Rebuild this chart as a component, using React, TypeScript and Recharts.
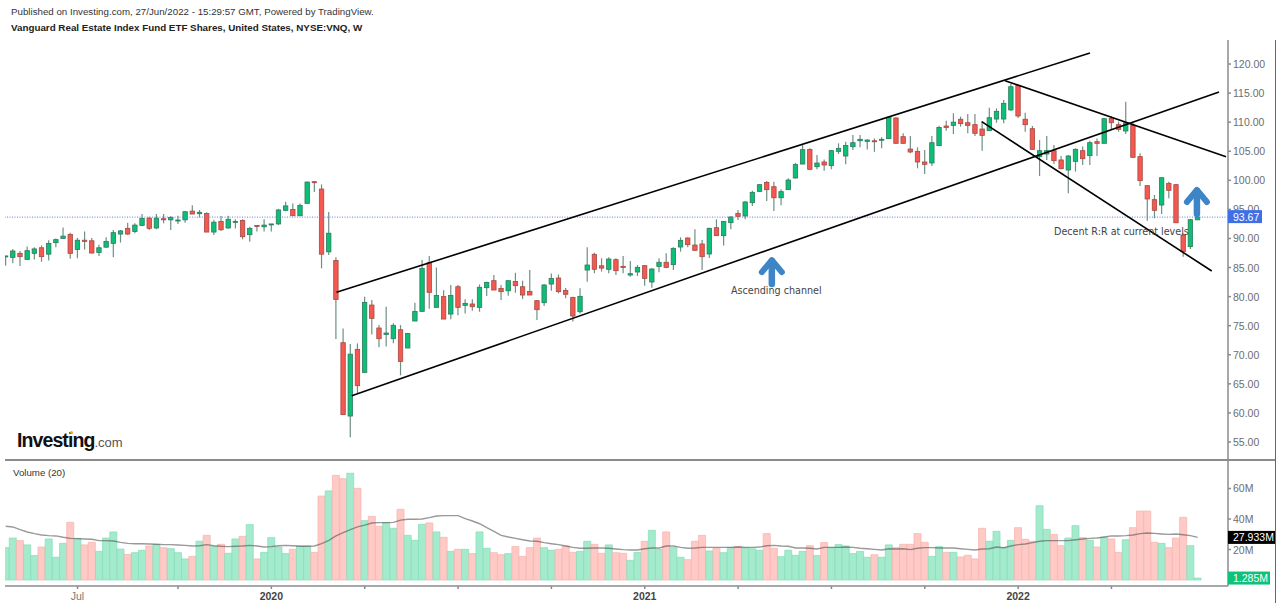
import React from "react";
import { ComposedChart, Bar, Line, Cell, XAxis, YAxis, ReferenceLine, ReferenceDot } from "recharts";

const opens = [
  86.9, 86.75, 87.44, 86.4, 87.44, 88.4, 87.3, 89.27, 90.0, 90.7,
  88.1, 89.7, 89.6, 87.6, 88.5, 89.16, 90.76, 91.74, 91.2, 92.25,
  93.5, 91.8, 93.4, 93.2, 93.05, 93.2, 94.7, 94.26, 94.3, 91.1,
  92.94, 91.8, 92.77, 93.1, 90.65, 92.25, 92, 92.35, 92.5, 94.84,
  95, 93.9, 96.04, 99.76, 98.5, 87.7, 86.2, 72.07, 59.46, 70.93,
  66.97, 78.55, 74.6, 73.5, 72.76, 74.3, 71.16, 75.8, 77.46, 85.83,
  78.15, 80, 77, 81.7, 78.5, 78.73, 78.15, 81.53, 82.74, 81.4,
  81, 82.6, 81.7, 80.9, 79.3, 78.95, 82.16, 83.2, 81.07, 79.87,
  77.4, 84.57, 87.27, 85.3, 84.7, 86.35, 85.2, 83.71, 84.23, 85.32,
  82.51, 85.2, 85.9, 85.5, 88.53, 90.08, 88.87, 89.05, 87.33, 91.85,
  90.48, 92.71, 94.32, 93.86, 96.15, 98.1, 99.65, 98.9, 97, 98.39,
  100.4, 102.8, 105.3, 102.34, 103.15, 102.52, 104.98, 104.18, 105.78, 106.8,
  106.7, 106.8, 106.93, 107.16, 110.72, 107.5, 105.38, 104.98, 103.15, 102.98,
  105.96, 109.34, 109.45, 110.5, 109.9, 109.57, 108.82, 108.54, 110.54, 110.54,
  112.1, 116.3, 110.5, 108.88, 104.07, 104.52, 105.1, 103.5, 101.77, 103.26,
  105.1, 104.24, 106.64, 106.36, 110.66, 109.57, 108.48, 109.45, 104.07, 99.08,
  96.67, 95.75, 99.48, 99.25, 90.6, 88.59, 93.2,
];

const highs = [
  87, 88.2, 87.84, 88.6, 88.5, 88.8, 89.7, 90, 91.9, 91,
  90.1, 91.2, 90.1, 88.9, 90.2, 91.45, 91.45, 92.7, 92.6, 94.2,
  93.75, 94.2, 94.2, 93.85, 93.9, 94.7, 95.7, 94.9, 94.5, 93.2,
  93.85, 93.9, 93.3, 93.3, 92, 92.3, 93.3, 92.5, 95.1, 96.3,
  96, 96, 99.8, 99.9, 99.3, 94.55, 86.75, 74.5, 71.85, 71.96,
  79.98, 79.4, 75.1, 78.26, 75.4, 75.1, 73.74, 78.95, 86.3, 86.98,
  85, 81.1, 81.99, 82, 79.53, 79.53, 82.1, 82.56, 83.7, 82,
  82.74, 84.1, 82.74, 84.57, 79.4, 82.16, 83.96, 83.8, 81.5, 79.98,
  81.42, 88.47, 87.55, 86.6, 86.75, 86.6, 86.98, 86.12, 85.43, 85.43,
  84.86, 86.58, 87.44, 88.47, 90.2, 90.2, 91.6, 89.73, 91.85, 93.29,
  93, 93.86, 94.89, 96.44, 98.22, 99.31, 99.88, 99.76, 98.45, 100.34,
  103, 106.07, 105.5, 104.35, 103.6, 105.2, 106.36, 106.64, 107.8, 107.8,
  107.05, 107.2, 107.4, 110.95, 110.83, 108.08, 107.62, 105.67, 105.2, 107.62,
  109.4, 110.26, 111.52, 110.95, 111.4, 111.4, 110.1, 112.5, 112.38, 113.8,
  116.56, 116.4, 111.63, 109.34, 106.93, 107.62, 106.07, 104.18, 104.35, 105.5,
  105.8, 106.82, 107.2, 110.66, 111.06, 110.1, 113.53, 109.9, 104.64, 99.19,
  97.47, 100.5, 99.77, 99.36, 90.88, 93.35, 93.75,
];

const lows = [
  85.3, 85.72, 85.26, 86.3, 86.4, 86, 86.2, 88.5, 90, 86.5,
  86.6, 88.1, 87.4, 87, 88.4, 86.75, 89.3, 90.6, 90.9, 92.1,
  91.45, 91.6, 92.6, 91.45, 92.5, 92.7, 94.2, 93.6, 91.1, 90.6,
  91.3, 91.7, 91.7, 89.85, 89.45, 91.2, 91.2, 91.2, 92.3, 94.7,
  93.9, 93.9, 96, 98, 84.86, 87.15, 72.7, 59.7, 55.8, 63.36,
  66.97, 73.5, 71.3, 71.4, 71.96, 66.46, 71.16, 75.8, 77.46, 77.9,
  78.15, 76.14, 76.1, 76.8, 77.1, 77.58, 77.4, 80.1, 81.13, 79.4,
  80.16, 80.67, 79.6, 80.27, 75.97, 78.4, 81, 80.56, 79.7, 75.7,
  77.1, 82.56, 84, 84.3, 84, 83.7, 84, 83.43, 83.54, 81.88,
  81.54, 84.17, 84.86, 84.57, 87.73, 88.47, 87.9, 84.57, 86.64, 90.42,
  88.8, 91.6, 93.17, 93.29, 95.58, 98.05, 96.44, 94.72, 95.7, 98.33,
  100.28, 102.75, 101.77, 101.89, 101.66, 101.89, 104.52, 102.75, 105.2, 105.67,
  105.3, 104.9, 105.5, 107.1, 106.36, 106.3, 104.64, 102.06, 101.09, 102.46,
  105.9, 108.54, 107.96, 109.23, 108.08, 107.62, 105.1, 108.48, 109.9, 109.8,
  111.98, 110.7, 108.36, 105.2, 100.74, 103.5, 102.8, 101.9, 97.76, 101.5,
  102.63, 102.63, 104.18, 106.36, 108.65, 108.36, 107.96, 103.9, 99, 93.06,
  93.46, 94.2, 96.9, 92.7, 86.87, 88.2, 93.2,
];

const closes = [
  87, 87.84, 86.87, 87.9, 88.2, 86.87, 89.16, 89.8, 90.4, 87.44,
  89.7, 89.5, 87.5, 88.4, 89.5, 91, 91.3, 90.76, 92.3, 93.46,
  91.74, 93.5, 93.2, 93.6, 93.17, 94.6, 94.2, 94.5, 91.1, 92.8,
  91.5, 93.3, 92.94, 90.3, 91.74, 92.1, 92.3, 92.5, 94.9, 95.6,
  93.9, 95.7, 99.7, 99.6, 87.3, 90.9, 79.5, 59.7, 70.1, 64.68,
  79, 76.26, 72.76, 73.74, 75.06, 68.86, 73.68, 77.46, 84.86, 80.73,
  80.2, 76.14, 80.2, 78.15, 78.84, 78.26, 81.6, 82.45, 81.13, 80.85,
  82.74, 81.88, 80.27, 80.27, 77.75, 82, 83.1, 80.85, 80.4, 76.66,
  80.04, 85.43, 84.7, 84.9, 86.46, 84.46, 85, 83.94, 85.03, 83.14,
  84.75, 85.9, 85.03, 88.3, 89.68, 88.93, 87.96, 86.87, 91.74, 90.48,
  92.94, 93.69, 93.8, 96.27, 97.93, 99.25, 98.39, 97, 98.05, 100.05,
  102.7, 105.27, 101.89, 102.97, 102.63, 105.1, 105.5, 106, 106.47, 107.05,
  106.93, 106.7, 107.05, 110.83, 106.36, 106.36, 104.87, 103.15, 102.75, 106.47,
  109.1, 109.1, 110, 109.74, 109.45, 108.08, 107.73, 110.77, 111.86, 113.24,
  116.1, 111.06, 109.57, 105.33, 105.1, 105.1, 103.38, 102, 104.18, 105.33,
  103.72, 106.47, 106.36, 110.6, 109.9, 108.77, 109.9, 103.95, 99.94, 96.79,
  94.84, 100.45, 98.28, 92.7, 87.73, 93.23, 93.67,
];

// volume, millions
const volumes = [
  21.2, 27.5, 25.8, 23, 16, 21.6, 26.9, 14.9, 24, 37.8,
  27.3, 23, 24.7, 18.8, 27.5, 31.5, 20.3, 16.8, 17.9, 19.5,
  22.3, 23.2, 21.2, 20.5, 17.9, 13.8, 15.5, 25.4, 29.3, 22,
  23.4, 17.5, 26.9, 28.6, 36.3, 13.8, 18.1, 27.8, 21.6, 17.3,
  20.1, 22.3, 22.3, 18.1, 55, 58.4, 68.6, 66.4, 70, 60.1,
  38.9, 41.7, 35.2, 37.6, 33.9, 46.3, 29.3, 26, 36.5, 37.4,
  31.5, 28, 18.8, 20.1, 20.1, 17.3, 31.5, 20.8, 17.9, 16.6,
  17.3, 21.9, 15.5, 21.2, 27.5, 21.2, 19.5, 20.1, 22.3, 18.1,
  18.8, 25.4, 23.4, 17.5, 23, 17.9, 17.5, 12.9, 18.1, 25.4,
  32.6, 20.1, 31.5, 21.2, 14.9, 13.3, 25.4, 29.3, 19, 20.8,
  17.9, 21.2, 22, 21, 20.5, 19.5, 30.4, 20.8, 15.3, 19.5,
  16.2, 18.8, 22.5, 16, 24.5, 21.2, 23.2, 22.3, 17.3, 18.8,
  14.9, 16.6, 14.9, 23, 21.2, 23.4, 23.4, 30.4, 24.7, 15.5,
  21.9, 18.1, 18.1, 15.1, 16.2, 13.8, 33.9, 25.4, 31.9, 21.2,
  26, 34.3, 26.7, 25.4, 48.7, 33.2, 29.9, 22.5, 27.5, 35.6,
  27.8, 26, 21.6, 28, 26.9, 18.1, 26.4, 34.3, 45.2, 45.2,
  24.7, 24, 21.2, 27.5, 41.1, 22.5, 1.285,
];

const volumeMa = [
  35.2, 34.8, 33, 31.5, 30.4, 29.5, 29.1, 28.9, 28, 27.3,
  27.1, 26.9, 26.7, 25.8, 25.8, 25.6, 24.7, 24, 23.8, 23.8,
  23.6, 23.4, 23.2, 23.2, 23, 22.7, 22.3, 22.5, 23.2, 22.5,
  22.1, 21.9, 22.1, 22.3, 22.7, 22.3, 21.6, 21.9, 22.5, 22.7,
  22.5, 22.1, 22.1, 22.3, 23.8, 26, 28.9, 31, 33, 34.8,
  36, 37.4, 37.6, 37.6, 37.8, 39.3, 39.8, 39.8, 40, 40.9,
  42, 42.2, 42.2, 42.2, 40.2, 38.7, 36.9, 34.3, 31.9, 29.3,
  28.2, 27.3, 26.4, 25.6, 25.4, 24.5, 23.8, 23.2, 22.3, 21.4,
  20.8, 20.8, 21, 21, 20.8, 20.3, 19.9, 19.7, 19.7, 20.5,
  21, 21, 22.3, 22.3, 21.4, 20.8, 21, 21.4, 21.4, 21.4,
  21.4, 21.4, 21.6, 21.4, 21.4, 21.6, 22.5, 22.7, 22.3, 22.1,
  21, 21, 20.8, 20.3, 21.4, 21.4, 21.4, 21.6, 21.4, 20.8,
  20.5, 20.1, 19.7, 20.5, 20.3, 20.5, 19.9, 20.8, 21.2, 21.2,
  21, 21, 21, 20.5, 20.1, 19.7, 20.3, 20.5, 21.6, 21.2,
  22.3, 23.2, 23.6, 24.5, 25.4, 25.8, 25.8, 25.8, 25.8, 26.4,
  26.9, 27.3, 27.5, 28.2, 28.9, 28.9, 29.1, 29.5, 30.4, 30.8,
  30.6, 30.2, 29.9, 30.2, 29.7, 29.1, 27.933,
];

const priceTicks = [55, 60, 65, 70, 75, 80, 85, 90, 95, 100, 105, 110, 115, 120];
const volumeTicks = [20, 40, 60];
const timeTicks = [10, 24, 37, 50, 63, 76, 89, 102, 115, 128, 141, 154];
const timeLabels: Record<number, string> = { 10: "Jul", 37: "2020", 89: "2021", 141: "2022" };

// drawn trend lines: [week, price] -> [week, price]
const trendLines = [
  [[46.07, 80.74], [151.0, 121.89]],
  [[48.2, 62.96], [168.98, 115.18]],
  [[139.18, 117.13], [169.96, 104.06]],
  [[135.93, 110.08], [167.97, 84.4]],
];

const arrows = [[106.7, 86.8], [165.9, 98.85]];

const data = opens.map((open, week) => ({
  week,
  open,
  high: highs[week],
  low: lows[week],
  close: closes[week],
  range: [lows[week], highs[week]],
  volume: volumes[week],
  volumeMa: volumeMa[week],
}));

const lastClose = closes[closes.length - 1];
const lastVolume = volumes[volumes.length - 1];
const lastMa = volumeMa[volumeMa.length - 1];

const WEEK_DOMAIN = [-0.794, 170.23];
const FONT = "'Liberation Sans', Arial, sans-serif";
const AXIS_GREY = "#8b8b8b";

function Candle({ x, y, width, height, payload }: any) {
  const { open, close, high, low } = payload;
  const unit = height / (high - low);
  const cx = x + width / 2;
  const top = y + (high - Math.max(open, close)) * unit;
  const bottom = y + (high - Math.min(open, close)) * unit;
  const up = close >= open;
  return (
    <g>
      <line x1={cx} x2={cx} y1={y} y2={y + height} stroke="#6f8f84" strokeWidth={1.2} />
      <rect
        x={cx - 2.2}
        y={top}
        width={4.4}
        height={Math.max(bottom - top, 1)}
        fill={up ? "#0bbf76" : "#f4584e"}
        stroke={up ? "#2c7a5c" : "#a34a44"}
        strokeWidth={0.8}
      />
    </g>
  );
}

function Arrow({ cx, cy }: any) {
  return (
    <g fill="none" stroke="#3d85c6" strokeLinecap="round" strokeLinejoin="round">
      <path d={`M${cx - 10} ${cy + 15} L${cx} ${cy + 3} L${cx + 10} ${cy + 15}`} strokeWidth={6} />
      <path d={`M${cx} ${cy + 4} V${cy + 27}`} strokeWidth={6.5} />
    </g>
  );
}

const Note = (text: string) => ({ cx, cy }: any) => (
  <text x={cx} y={cy} fontSize={9.6} fill="#444" fontFamily="'DejaVu Sans', sans-serif">
    {text}
  </text>
);

function PriceTick({ x, y, payload }: any) {
  if (payload.value === lastClose) {
    return (
      <g>
        <rect x={x - 5} y={y - 7} width={34} height={13} fill="#3f6fe6" />
        <text x={x} y={y + 3.5} fontSize={10.5} fill="#fff" fontFamily={FONT}>
          {lastClose.toFixed(2)}
        </text>
      </g>
    );
  }
  return (
    <text x={x} y={y + 4} fontSize={10.5} fill="#6d6d6d" fontFamily={FONT}>
      {payload.value.toFixed(2)}
    </text>
  );
}

function VolumeTick({ x, y, payload }: any) {
  if (payload.value === lastMa || payload.value === lastVolume) {
    const isMa = payload.value === lastMa;
    return (
      <g>
        <rect x={x - 5} y={y - 6.5} width={isMa ? 47 : 42} height={13} fill={isMa ? "#000" : "#0ec27c"} />
        <text x={x} y={y + 3.5} fontSize={10.5} fill="#fff" fontFamily={FONT}>
          {payload.value.toFixed(3)}M
        </text>
      </g>
    );
  }
  return (
    <text x={x} y={y + 4} fontSize={10.5} fill="#6d6d6d" fontFamily={FONT}>
      {payload.value}M
    </text>
  );
}

function TimeTick({ x, y, payload }: any) {
  const label = timeLabels[payload.value];
  if (!label) return null;
  const isYear = label !== "Jul";
  return (
    <text
      x={x}
      y={y + 9}
      textAnchor="middle"
      fontSize={10.5}
      fontWeight={isYear ? 700 : 400}
      fill={isYear ? "#444" : "#777"}
      fontFamily={FONT}
    >
      {label}
    </text>
  );
}

export default function App() {
  return (
    <div style={{ position: "absolute", left: 0, top: 0, width: 1280, height: 606, background: "#fff", overflow: "hidden", fontFamily: FONT }}>
      <div style={{ position: "absolute", left: 11, top: 6, fontSize: 9.7, color: "#333", whiteSpace: "nowrap", letterSpacing: 0.02 }}>
        Published on Investing.com, 27/Jun/2022 - 15:29:57 GMT, Powered by TradingView.
      </div>
      <div style={{ position: "absolute", left: 11, top: 22, fontSize: 9.8, fontWeight: 700, color: "#222", whiteSpace: "nowrap" }}>
        Vanguard Real Estate Index Fund ETF Shares, United States, NYSE:VNQ, W
      </div>

      {/* charts are clipped at x=5 like the cropped original */}
      <div style={{ position: "absolute", left: 5, top: 0, width: 1275, height: 606, overflow: "hidden" }}>
        <div style={{ position: "absolute", left: -5, top: 0 }}>
          <ComposedChart width={1280} height={460} data={data} margin={{ top: 40, right: 5, bottom: 0, left: 0 }}>
            <XAxis dataKey="week" type="number" domain={WEEK_DOMAIN} allowDataOverflow hide height={0} />
            <YAxis
              orientation="right"
              width={47}
              domain={[51.9, 124.13]}
              allowDataOverflow
              ticks={[...priceTicks, lastClose]}
              interval={0}
              stroke={AXIS_GREY}
              strokeWidth={1.5}
              tickSize={3}
              tickMargin={2}
              tick={<PriceTick />}
            />
            <ReferenceLine y={lastClose} stroke="#5f80ea" strokeDasharray="1 1.5" strokeWidth={1} />
            <Bar dataKey="range" barSize={7} shape={<Candle />} isAnimationActive={false} />
            {trendLines.map((seg, i) => (
              <ReferenceLine
                key={i}
                segment={[{ x: seg[0][0], y: seg[0][1] }, { x: seg[1][0], y: seg[1][1] }]}
                stroke="#000"
                strokeWidth={1.6}
              />
            ))}
            {arrows.map((a, i) => (
              <ReferenceDot key={i} x={a[0]} y={a[1]} r={0} shape={<Arrow />} />
            ))}
            <ReferenceDot x={101} y={80.4} r={0} shape={Note("Ascending channel")} />
            <ReferenceDot x={146} y={90.6} r={0} shape={Note("Decent R:R at current levels")} />
          </ComposedChart>
        </div>

        <div style={{ position: "absolute", left: -5, top: 460 }}>
          <ComposedChart width={1280} height={146} data={data} margin={{ top: 1, right: 5, bottom: 0, left: 0 }}>
            <XAxis
              dataKey="week"
              type="number"
              domain={WEEK_DOMAIN}
              allowDataOverflow
              height={20}
              ticks={timeTicks}
              interval={0}
              stroke={AXIS_GREY}
              strokeWidth={1.5}
              tickSize={3}
              tick={<TimeTick />}
            />
            <YAxis
              orientation="right"
              width={47}
              domain={[-3.93, 78.03]}
              allowDataOverflow
              ticks={[...volumeTicks, lastMa, lastVolume]}
              interval={0}
              stroke={AXIS_GREY}
              strokeWidth={1.5}
              tickSize={3}
              tickMargin={2}
              tick={<VolumeTick />}
            />
            <Bar dataKey="volume" barSize={7} isAnimationActive={false}>
              {data.map((d) => (
                <Cell
                  key={d.week}
                  fill={d.close >= d.open ? "#a4ebcd" : "#ffc9c6"}
                  stroke={d.close >= d.open ? "#86dfba" : "#f6b6b1"}
                  strokeWidth={0.8}
                />
              ))}
            </Bar>
            <Line dataKey="volumeMa" stroke="rgba(85,85,85,0.6)" strokeWidth={1.4} dot={false} isAnimationActive={false} />
          </ComposedChart>
        </div>
      </div>

      {/* pane chrome */}
      <div style={{ position: "absolute", left: 5, top: 459, width: 1270, height: 1.5, background: AXIS_GREY }} />
      <div style={{ position: "absolute", left: 1274.5, top: 40, width: 1.5, height: 563, background: "#666" }} />

      <div style={{ position: "absolute", left: 13, top: 467, fontSize: 9.7, color: "#333" }}>Volume (20)</div>

      <div style={{ position: "absolute", left: 17, top: 427, whiteSpace: "nowrap", lineHeight: "26px" }}>
        <span style={{ fontSize: 19.5, fontWeight: 700, color: "#111", letterSpacing: -0.9 }}>Investing</span>
        <span style={{ fontSize: 13, color: "#555" }}>.com</span>
      </div>
      <div style={{ position: "absolute", left: 70, top: 431, width: 3, height: 3, borderRadius: 2, background: "#f5a623" }} />
    </div>
  );
}
